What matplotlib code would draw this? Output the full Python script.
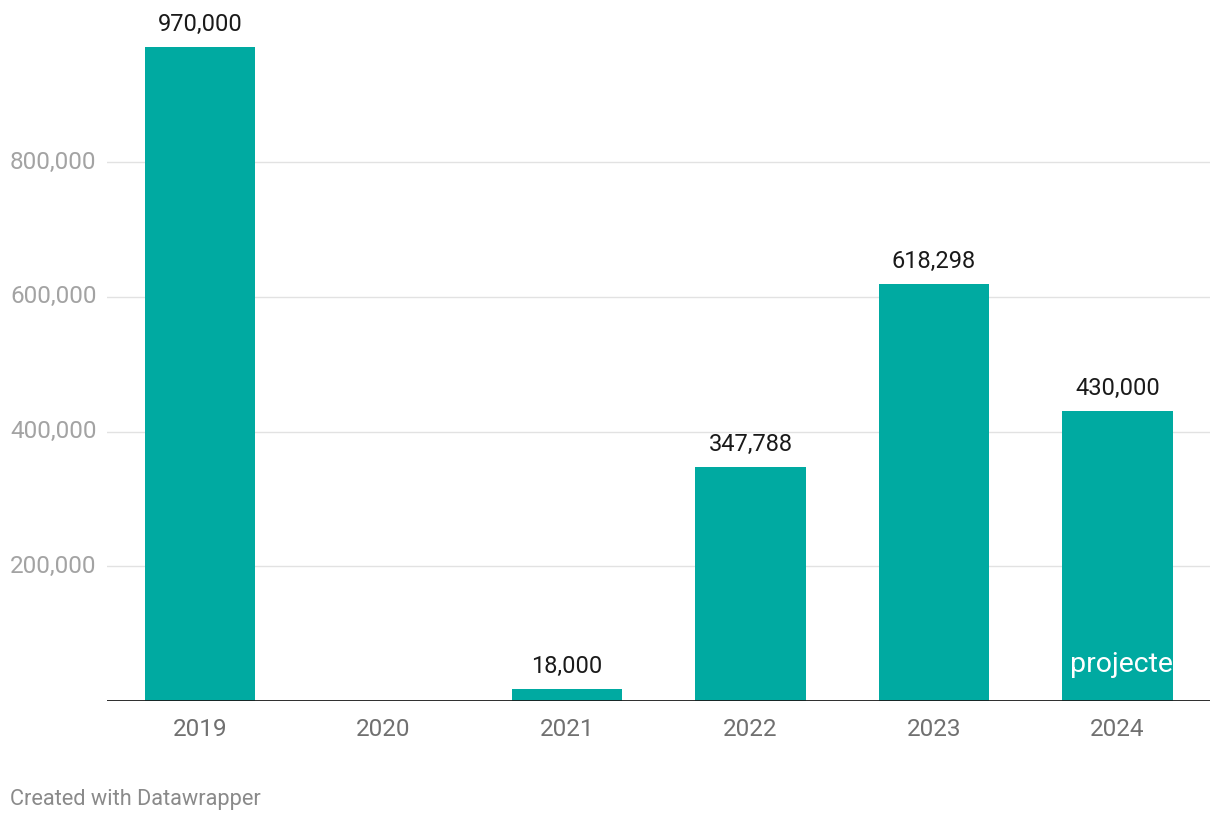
import numpy as np
import matplotlib.pyplot as plt
import matplotlib.transforms as mtransforms

plt.rcParams['font.family'] = ['Roboto', 'DejaVu Sans']

years = ['2019', '2020', '2021', '2022', '2023', '2024']
values = [970000, np.nan, 18000, 347788, 618298, 430000]
value_labels = ['970,000', '', '18,000', '347,788', '618,298', '430,000']
y_ticks = [200000, 400000, 600000, 800000]
y_tick_labels = ['200,000', '400,000', '600,000', '800,000']

bar_color = '#00aaa1'
W, H = 1220, 824

fig = plt.figure(figsize=(W / 100, H / 100), dpi=100)
ax = fig.add_axes([107 / W, 1 - 701 / H, (1210 - 107) / W, (701 - 20) / H])

x = np.arange(len(years))
vals = np.nan_to_num(np.array(values, dtype=float))
bars = ax.bar(x, vals, width=0.6, color=bar_color, zorder=3)

ax.set_xlim(-0.507, 5.504)
ax.set_ylim(0, 800000 * (701 - 20) / (701 - 162))

for xi, v, lab in zip(x, vals, value_labels):
    if lab:
        ax.annotate(lab, (xi, v), xytext=(0, 8), textcoords='offset points',
                    ha='center', va='bottom', fontsize=17, color='#1a1a1a')

# "projected" note inside the 2024 bar, clipped at the bar edge
t = ax.text(5 - 0.258, 42500, 'projected', color='white', fontsize=20.5,
            ha='left', va='baseline', zorder=4)
t.set_clip_path(bars[5])

# gridlines and y labels
trans = mtransforms.blended_transform_factory(fig.transFigure, ax.transData)
for yt, yl in zip(y_ticks, y_tick_labels):
    ax.axhline(yt, color='#e2e2e2', lw=1, zorder=1)
    ax.text(10 / W, yt, yl, transform=trans, ha='left', va='center',
            fontsize=17.5, color='#a3a3a3')

ax.axhline(0, color='#1a1a1a', lw=2, zorder=5)

ax.set_yticks([])
ax.set_xticks(x)
ax.set_xticklabels(years, fontsize=17.5, color='#707070')
ax.tick_params(axis='x', length=0, pad=12)
for s in ax.spines.values():
    s.set_visible(False)

fig.text(10 / W, 1 - 800 / H, 'Created with Datawrapper', fontsize=15.7,
         color='#8a8a8a', ha='left', va='center')

fig.savefig('out.png', dpi=100)
